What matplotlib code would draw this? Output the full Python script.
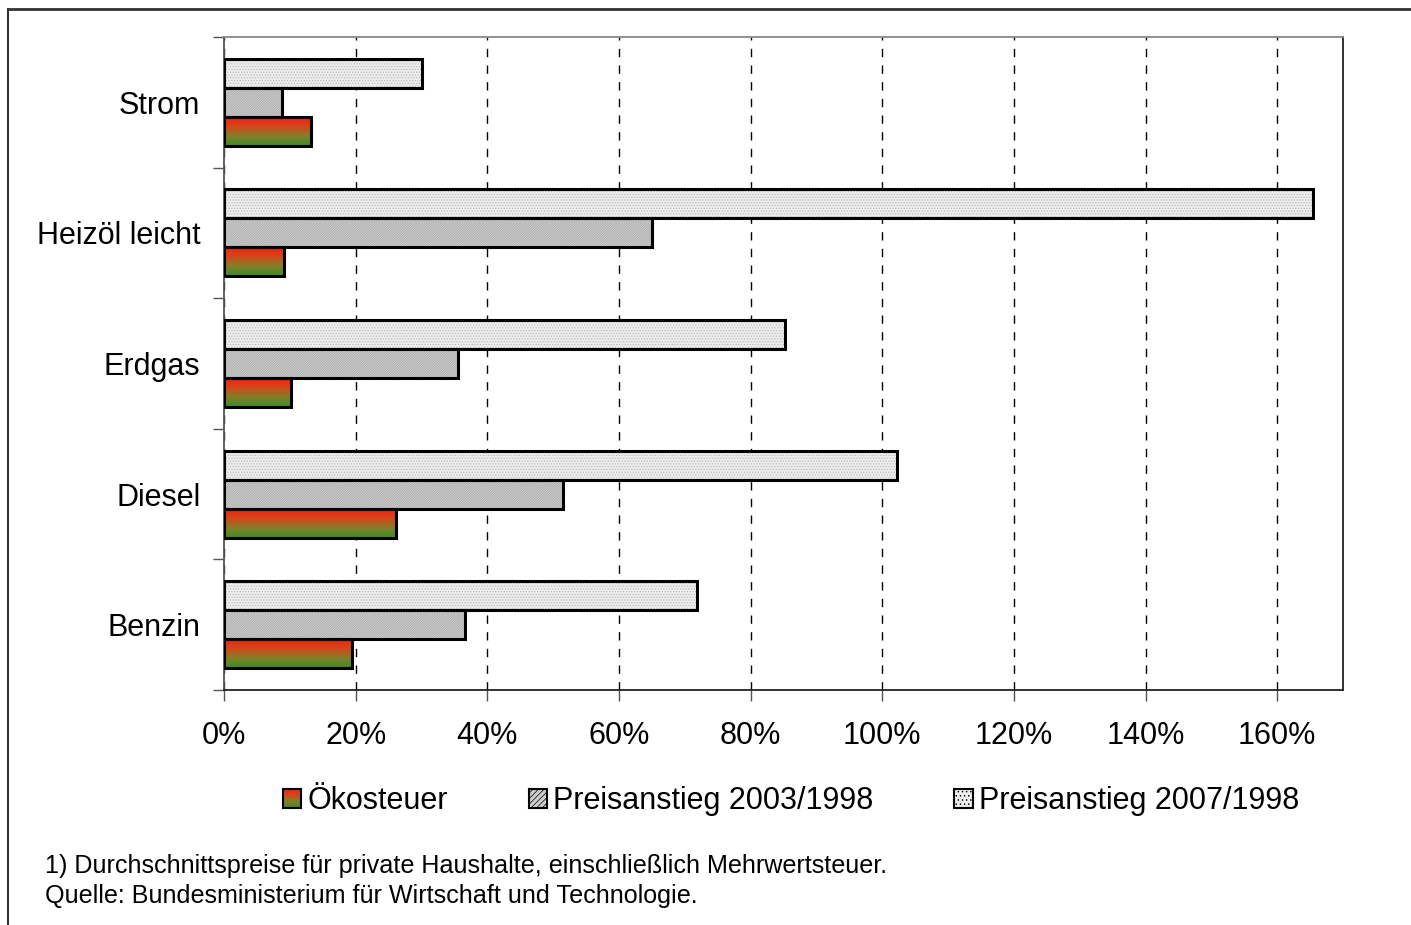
import numpy as np
import matplotlib.pyplot as plt
from matplotlib.patches import Rectangle
from matplotlib.lines import Line2D
from matplotlib.legend_handler import HandlerBase
from matplotlib.colors import LinearSegmentedColormap

plt.rcParams['font.family'] = ['Liberation Sans', 'DejaVu Sans']
plt.rcParams['hatch.linewidth'] = 0.5

categories = ["Strom", "Heizöl leicht", "Erdgas", "Diesel", "Benzin"]
oekosteuer = [13.2, 9.1, 10.2, 26.1, 19.5]
anstieg_2003 = [8.8, 65.0, 35.6, 51.5, 36.6]
anstieg_2007 = [30.1, 165.5, 85.3, 102.3, 71.9]
xticks = [0, 20, 40, 60, 80, 100, 120, 140, 160]
series_labels = ["Ökosteuer", "Preisanstieg 2003/1998", "Preisanstieg 2007/1998"]
footnote = ["1) Durchschnittspreise für private Haushalte, einschließlich Mehrwertsteuer.",
            "Quelle: Bundesministerium für Wirtschaft und Technologie."]

red_green = LinearSegmentedColormap.from_list("rg", ["#fa1e0c", "#d04a1c", "#808028", "#3c8c2c"])
gradient = np.linspace(0, 1, 64).reshape(-1, 1)

fig = plt.figure(figsize=(14.11, 9.25), dpi=100)
ax = fig.add_axes([224 / 1411, 1 - 690 / 925, (1343 - 224) / 1411, (690 - 37) / 925])

y = np.arange(len(categories))
h = 0.222

# hatched fills first, black outlines on top
ax.barh(y - h, anstieg_2007, height=h, color="#ececec", edgecolor="#b8b8b8",
        hatch="......", linewidth=0, zorder=3)
ax.barh(y, anstieg_2003, height=h, color="#cdcdcd", edgecolor="#a8a8a8",
        hatch="/" * 14, linewidth=0, zorder=3)
ax.barh(y - h, anstieg_2007, height=h, fill=False, edgecolor="black", linewidth=2.2, zorder=4)
ax.barh(y, anstieg_2003, height=h, fill=False, edgecolor="black", linewidth=2.2, zorder=4)

# red-to-green gradient bars
for yi, v in zip(y + h, oekosteuer):
    ax.imshow(gradient, cmap=red_green, aspect="auto", zorder=3,
              extent=[0, v, yi + h / 2, yi - h / 2], interpolation="bilinear")
ax.barh(y + h, oekosteuer, height=h, fill=False, edgecolor="black", linewidth=2.2, zorder=4)

ax.set_xlim(0, 170)
ax.set_ylim(len(categories) - 0.5, -0.5)

ax.set_xticks(xticks)
ax.set_xticklabels([f"{t}%" for t in xticks], fontsize=22)
ax.tick_params(axis="x", length=8, width=1, pad=14, color="#555555")
ax.set_yticks(np.arange(len(categories) + 1) - 0.5)
ax.set_yticklabels([])
ax.set_yticks(y, minor=True)
ax.set_yticklabels(categories, minor=True, fontsize=22)
ax.tick_params(axis="y", which="major", length=8, width=1, color="#555555")
ax.tick_params(axis="y", which="minor", length=0, pad=17)

ax.xaxis.grid(True, color="black", linestyle=(0, (6, 6)), linewidth=1)
ax.set_axisbelow(True)

ax.spines["top"].set_color("#888888")
ax.spines["right"].set_color("#222222")
ax.spines["left"].set_color("#555555")
ax.spines["bottom"].set_color("#222222")
for s in ax.spines.values():
    s.set_linewidth(1.3)


class GradientHandler(HandlerBase):
    def create_artists(self, legend, orig_handle, xdescent, ydescent,
                       width, height, fontsize, trans):
        n = 12
        strips = []
        for i in range(n):
            c = red_green(1 - (i + 0.5) / n)
            strips.append(Rectangle((-xdescent, -ydescent + i * height / n), width, height / n,
                                    facecolor=c, edgecolor="none", transform=trans))
        strips.append(Rectangle((-xdescent, -ydescent), width, height, fill=False,
                                edgecolor="black", linewidth=1.5, transform=trans))
        return strips


h_oeko = Rectangle((0, 0), 1, 1)
h_2003 = Rectangle((0, 0), 1, 1, facecolor="#cdcdcd", edgecolor="black", hatch="//////", linewidth=1.5)
h_2007 = Rectangle((0, 0), 1, 1, facecolor="#ececec", edgecolor="black", hatch="....", linewidth=1.5)
fig.legend([h_oeko, h_2003, h_2007], series_labels, ncol=3, frameon=False,
           loc="center", bbox_to_anchor=(791 / 1411, 1 - 801 / 925), fontsize=22,
           handlelength=0.6, handleheight=0.6, handletextpad=0.2, columnspacing=2.65,
           handler_map={h_oeko: GradientHandler()})

fig.text(45 / 1411, 1 - 866 / 925, footnote[0], fontsize=18.1, va="center", ha="left")
fig.text(45 / 1411, 1 - 896 / 925, footnote[1], fontsize=18.1, va="center", ha="left")

# outer frame lines on the left and top
fig.add_artist(Line2D([8 / 1411, 8 / 1411], [0, 1 - 9 / 925], color="#333333", linewidth=1.5,
                      transform=fig.transFigure))
fig.add_artist(Line2D([8 / 1411, 1], [1 - 9 / 925, 1 - 9 / 925], color="#333333", linewidth=2,
                      transform=fig.transFigure))

fig.savefig("out.png", dpi=100)
